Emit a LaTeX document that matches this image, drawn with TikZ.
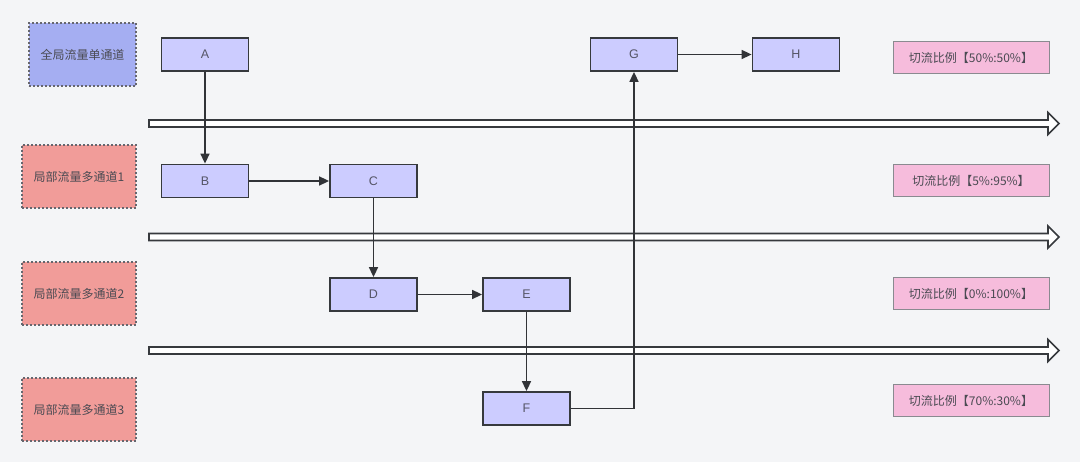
\documentclass[tikz,border=0pt]{standalone}
\usepackage{fontspec}
\setmainfont{Liberation Sans}
\newfontfamily\cjk{Noto Sans CJK SC}
\usetikzlibrary{arrows.meta}
\definecolor{bg}{HTML}{F4F5F7}
\definecolor{nodefill}{HTML}{CCCCFF}
\definecolor{nodeedge}{HTML}{36393D}
\definecolor{txt}{HTML}{555566}
\definecolor{lbltxt}{HTML}{4A4A52}
\definecolor{lblblue}{HTML}{A5AEF2}
\definecolor{lblred}{HTML}{F19C99}
\definecolor{pinkfill}{HTML}{F6BCDC}
\definecolor{pinkedge}{HTML}{8A8A90}
\definecolor{dashedge}{HTML}{66666E}
\tikzset{
  stepbox/.style={draw=nodeedge, line width=1.8pt, fill=nodefill, minimum width=87pt, minimum height=33pt, inner sep=0pt, font=\fontsize{12.5}{14}\selectfont, text=txt},
  lanebox/.style={draw=dashedge, line width=1.1pt, dash pattern=on 2pt off 2pt, minimum width=114pt, minimum height=63pt, inner sep=0pt, font=\cjk\fontsize{12}{14}\selectfont, text=lbltxt},
  ratiobox/.style={draw=pinkedge, line width=1pt, fill=pinkfill, minimum width=156pt, minimum height=32pt, inner sep=0pt, font=\cjk\fontsize{12}{14}\selectfont, text=lbltxt},
  conn/.style={draw=nodeedge!90!black, line width=1.6pt, -{Triangle[length=10pt,width=9pt]}},
  bigarrow/.style={draw=nodeedge, line width=1.6pt, fill=white, line join=miter}
}
\begin{document}
\begin{tikzpicture}[x=1pt,y=-1pt]
\fill[bg] (0,0) rectangle (1080,462);
\useasboundingbox (0,0) rectangle (1080,462);

% big horizontal arrows
\foreach \yc in {123.5,237,350.5}{
  \path[bigarrow] (149,\yc-3.5) -- (1048,\yc-3.5) -- (1048,\yc-11) -- (1059,\yc) -- (1048,\yc+11) -- (1048,\yc+3.5) -- (149,\yc+3.5) -- cycle;
}

% lane labels
\node[lanebox, fill=lblblue, minimum width=107pt] (L0) at (82.5,54.5) {全局流量单通道};
\node[lanebox, fill=lblred] (L1) at (79,176.5) {局部流量多通道1};
\node[lanebox, fill=lblred] (L2) at (79,293.5) {局部流量多通道2};
\node[lanebox, fill=lblred] (L3) at (79,409.5) {局部流量多通道3};

% ratio boxes
\node[ratiobox] (R0) at (971,58) {切流比例【50\%:50\%】};
\node[ratiobox] (R1) at (971,181) {切流比例【5\%:95\%】};
\node[ratiobox] (R2) at (971,293.5) {切流比例【0\%:100\%】};
\node[ratiobox] (R3) at (971,401) {切流比例【70\%:30\%】};

% steps
\node[stepbox] (A) at (205,54.5) {A};
\node[stepbox] (B) at (205,181) {B};
\node[stepbox] (C) at (373.5,181) {C};
\node[stepbox] (D) at (373.5,294.5) {D};
\node[stepbox] (E) at (526.5,294.5) {E};
\node[stepbox] (F) at (526.5,408.5) {F};
\node[stepbox] (G) at (634,54.5) {G};
\node[stepbox] (H) at (796,54.5) {H};

% connectors
\draw[conn] (A) -- (B);
\draw[conn] (B) -- (C);
\draw[conn] (C) -- (D);
\draw[conn] (D) -- (E);
\draw[conn] (E) -- (F);
\draw[conn] (F.east) -| (G.south);
\draw[conn] (G) -- (H);
\end{tikzpicture}
\end{document}
